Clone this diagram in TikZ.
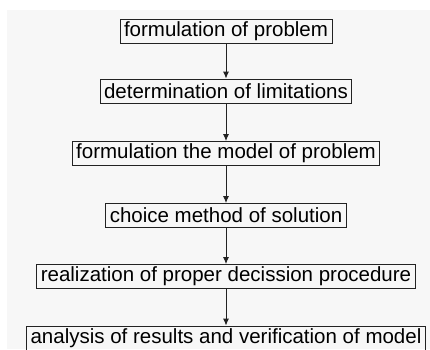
\documentclass[tikz,border=0pt]{standalone}
\usepackage{fontspec}
\setmainfont{Liberation Sans}
\usetikzlibrary{arrows.meta}
\definecolor{pagegrey}{HTML}{F7F7F7}
\definecolor{linegrey}{HTML}{222222}
\begin{document}
\begin{tikzpicture}[x=1pt,y=-1pt]
			\tikzset{>={Latex[length=7pt,width=6pt]}}
			\tikzset{stage/.style={draw=linegrey,line width=0.9pt,inner xsep=4pt,inner ysep=0pt,
					minimum height=24pt,font=\fontsize{20.5}{22}\selectfont,text=black}}
			\tikzset{flow/.style={->,draw=linegrey,line width=0.9pt}}
			\useasboundingbox (0,0) rectangle (430,349);
			\fill[pagegrey] (7,10) rectangle (430,349);
			\clip (7,10) rectangle (430,349);

			\node[stage] (problem) at (226,31) {formulation of problem};
			\node[stage] (limits) at (226,91) {determination of limitations};
			\node[stage] (model) at (226,153.5) {formulation the model of problem};
			\node[stage] (method) at (226,215.5) {choice method of solution};
			\node[stage] (procedure) at (226,276.5) {realization of proper decission procedure};
			\node[stage] (analysis) at (226,338) {analysis of results and verification of model};

			\draw[flow] (problem) -- (limits);
			\draw[flow] (limits) -- (model);
			\draw[flow] (model) -- (method);
			\draw[flow] (method) -- (procedure);
			\draw[flow] (procedure) -- (analysis);
		\end{tikzpicture}
\end{document}
